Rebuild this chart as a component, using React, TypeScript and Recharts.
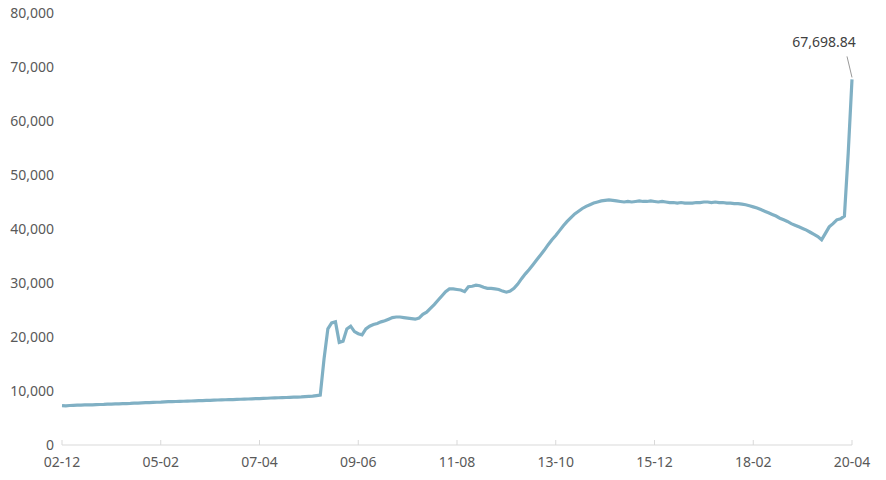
import { LabelList, Line, LineChart, XAxis, YAxis } from "recharts";

// monthly index, 2002-12 .. 2020-04
const startYear = 2002;
const startMonth = 12;
const months: string[] = Array.from({ length: 209 }, (_, i) => {
  const m0 = startMonth - 1 + i;
  const yy = (startYear + Math.floor(m0 / 12)) % 100;
  const mm = (m0 % 12) + 1;
  return `${String(yy).padStart(2, "0")}-${String(mm).padStart(2, "0")}`;
});

const xTicks = ["02-12", "05-02", "07-04", "09-06", "11-08", "13-10", "15-12", "18-02", "20-04"];
const yTicks = [0, 10000, 20000, 30000, 40000, 50000, 60000, 70000, 80000];

const values2002to2007 = [
  7300, 7250, 7320, 7350, 7380, 7400, 7420, 7450, 7440, 7480, 7500, 7520, 7560,
  7580, 7600, 7620, 7650, 7680, 7700, 7740, 7760, 7800, 7830, 7850, 7900,
  7920, 7950, 8000, 8020, 8040, 8060, 8080, 8100, 8130, 8150, 8180, 8200,
  8230, 8250, 8280, 8300, 8330, 8360, 8380, 8400, 8420, 8450, 8470, 8500,
  8520, 8560, 8580, 8600, 8630, 8660, 8700, 8720, 8750, 8780, 8800, 8820,
];
const values2008to2012 = [
  8850, 8880, 8900, 8950, 9000, 9050, 9150, 9250, 16000, 21500, 22600, 22800,
  19000, 19200, 21500, 22000, 21000, 20600, 20400, 21500, 22000, 22300, 22500, 22800,
  23000, 23300, 23600, 23700, 23700, 23600, 23500, 23400, 23300, 23500, 24200, 24600,
  25300, 26000, 26800, 27600, 28400, 28900, 28900, 28800, 28700, 28400, 29300, 29400,
  29600, 29500, 29200, 29000, 29000, 28900, 28800, 28500, 28300, 28500, 29000, 29800,
];
const values2013to2017 = [
  30800, 31700, 32500, 33400, 34300, 35200, 36100, 37100, 38000, 38800, 39700, 40600,
  41400, 42100, 42800, 43300, 43800, 44200, 44500, 44800, 45000, 45200, 45300, 45400,
  45300, 45200, 45100, 45000, 45100, 45000, 45100, 45200, 45100, 45100, 45200, 45100,
  45000, 45100, 45000, 44900, 44900, 44800, 44900, 44800, 44800, 44800, 44900, 44900,
  45000, 45000, 44900, 45000, 44900, 44900, 44800, 44800, 44700, 44700, 44600, 44500,
];
const values2018to2020 = [
  44300, 44100, 43900, 43600, 43300, 43000, 42700, 42400, 42000, 41700, 41400, 41000,
  40700, 40400, 40100, 39800, 39400, 39000, 38600, 38000, 39200, 40400, 41000, 41700,
  41900, 42400, 54000, 67698.84,
];

const values = [...values2002to2007, ...values2008to2012, ...values2013to2017, ...values2018to2020];
const data = months.map((m, i) => ({ month: m, value: values[i] }));

const fontFamily = "'Noto Sans', 'Open Sans', sans-serif";
const lastIndex = data.length - 1;

const EndLabel = (props: any) => {
  const { x, y, index, value } = props;
  if (index !== lastIndex) return null;
  const text = Number(value).toLocaleString("en-US", { minimumFractionDigits: 2, maximumFractionDigits: 2 });
  return (
    <g>
      <line x1={x - 5} y1={y - 23} x2={x} y2={y - 2} stroke="#999" strokeWidth={1} />
      <text x={x - 28} y={y - 32} textAnchor="middle" fill="#404040" fontSize={14} fontFamily={fontFamily}>
        {text}
      </text>
    </g>
  );
};

export default function App() {
  return (
    <div style={{ width: 886, height: 480, marginTop: -8, marginLeft: -8 }}>
      <LineChart width={886} height={480} data={data} margin={{ top: 13, right: 34, bottom: 5, left: 0 }}>
        <XAxis
          dataKey="month"
          ticks={xTicks}
          interval={0}
          stroke="#d9d9d9"
          tickSize={-5}
          tickMargin={17}
          height={30}
          tick={{ fill: "#595959", fontSize: 14, fontFamily }}
        />
        <YAxis
          domain={[0, 80000]}
          ticks={yTicks}
          axisLine={false}
          tickLine={false}
          width={62}
          tickFormatter={(v: number) => v.toLocaleString("en-US")}
          tick={{ fill: "#595959", fontSize: 14, fontFamily }}
        />
        <Line
          type="linear"
          dataKey="value"
          stroke="#80B0C4"
          strokeWidth={3.2}
          dot={false}
          isAnimationActive={false}
        >
          <LabelList dataKey="value" content={<EndLabel />} />
        </Line>
      </LineChart>
    </div>
  );
}
